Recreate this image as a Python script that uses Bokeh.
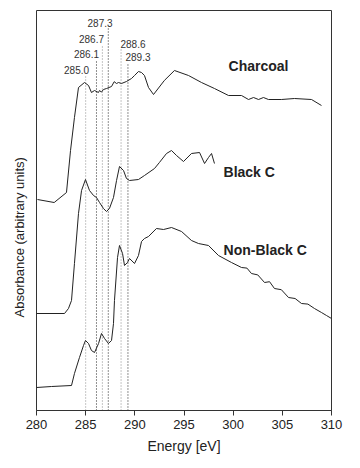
from bokeh.plotting import figure
from bokeh.models import Range1d, SingleIntervalTicker, Title, ColumnDataSource
from bokeh.core.properties import value
from bokeh.embed import file_html
from bokeh.resources import INLINE

# ---------------- data ----------------
charcoal_ev = [280.1, 281.8, 283.05, 283.46, 283.86, 284.27, 284.88, 285.29, 285.59, 285.9,
               286.3, 286.41, 286.6, 286.81, 287.12, 287.63, 287.9, 288.14, 288.34, 288.64, 289.15,
               289.66, 289.97, 290.37, 290.68, 290.98, 291.39, 291.9, 293.0, 294.03, 295.46,
               296.78, 298.1, 299.53, 300.85, 301.56, 302.07, 302.58, 303.08, 303.59, 304.9,
               306.24, 307.97, 308.98]
charcoal_abs = [52.75, 52.0, 54.5, 65.0, 73.25, 80.75, 82.0, 81.25, 79.5, 80.0,
                79.5, 80.0, 79.6, 80.25, 80.5, 81.0, 82.2, 81.75, 82.0, 81.75, 82.25,
                83.0, 83.75, 84.75, 84.5, 83.75, 80.75, 79.0, 82.5, 85.0, 83.75,
                82.0, 80.5, 78.75, 78.75, 77.75, 78.25, 77.75, 78.25, 77.75, 77.75,
                78.0, 77.75, 76.25]

blackc_ev = [280.0, 282.85, 283.25, 283.56, 283.86, 284.27, 284.58, 284.98, 285.39, 285.8,
             286.1, 286.41, 286.81, 287.12, 287.42, 287.83, 288.14, 288.44, 288.85, 289.15,
             289.46, 290.37, 290.98, 292.0, 292.5, 293.22, 293.73, 294.24, 294.95, 295.76,
             296.58, 297.09, 297.49, 297.8, 298.1]
blackc_abs = [24.25, 24.25, 25.5, 27.5, 36.75, 49.25, 55.0, 57.75, 55.0, 53.75,
              53.25, 52.0, 50.5, 49.75, 50.5, 53.25, 57.5, 61.0, 60.0, 58.0,
              57.5, 57.75, 58.75, 60.5, 62.0, 64.25, 65.0, 63.75, 62.25, 64.25,
              64.5, 61.75, 63.25, 64.25, 61.75]

nonblack_ev = [280.0, 281.53, 283.56, 283.86, 284.37, 284.78, 284.98, 285.29, 285.59, 285.9,
               286.31, 286.61, 286.92, 287.32, 287.63, 287.83, 287.93, 288.24, 288.44, 288.75,
               288.95, 289.25, 289.46, 289.97, 290.37, 290.68, 290.98, 291.39, 292.2, 292.92,
               293.73, 294.75, 295.76, 296.47, 297.49, 298.51, 299.83, 300.85, 301.4, 301.86,
               302.5, 303.19, 303.7, 304.2, 304.9, 305.63, 306.3, 306.95, 307.6, 308.27,
               308.98, 309.49, 310.0]
nonblack_abs = [5.75, 6.0, 6.25, 9.25, 13.25, 16.25, 17.5, 16.75, 15.0, 14.5,
                16.75, 19.25, 18.0, 16.75, 17.5, 21.75, 27.5, 38.25, 41.25, 39.25,
                36.25, 37.0, 38.0, 36.75, 38.75, 42.25, 43.0, 43.5, 45.5, 45.25,
                45.75, 44.75, 42.5, 41.75, 41.25, 38.75, 37.0, 35.75, 35.6, 34.25,
                33.9, 32.0, 32.2, 30.5, 30.2, 28.25, 28.0, 26.75, 26.6, 25.5,
                24.5, 23.75, 23.0]

peak_energies = [285.0, 286.1, 286.7, 287.3, 288.6, 289.3]
peak_labels = ["285.0", "286.1", "286.7", "287.3", "288.6", "289.3"]

series_names = ["Charcoal", "Black C", "Non-Black C"]

# ---------------- layout / style (not data) ----------------
peak_line_top = [83.5, 87.75, 91.5, 95.5, 90.25, 87.0]
peak_label_dx = [-0.93, -1.02, -1.11, -0.84, 1.21, 1.02]
peak_label_y = [85.25, 89.25, 93.0, 97.0, 91.75, 88.5]
peak_line_color = ["#8c8c8c", "#222222", "#8c8c8c", "#222222", "#8c8c8c", "#222222"]
name_x = [299.53, 299.02, 299.02]
name_y = [86.25, 59.75, 40.25]

FONT = "Liberation Sans"
INK = "#222222"

p = figure(output_backend="svg", toolbar_location=None,
           frame_width=295, frame_height=400,
           min_border_left=35, min_border_right=22, min_border_top=10, min_border_bottom=50,
           x_range=Range1d(280, 310), y_range=Range1d(0, 100))

p.background_fill_color = "white"
p.border_fill_color = "white"
p.outline_line_color = "#333333"
p.outline_line_width = 1
p.xgrid.visible = False
p.ygrid.visible = False
p.yaxis.visible = False

ax = p.xaxis[0]
ax.ticker = SingleIntervalTicker(interval=5)
ax.minor_tick_line_color = None
ax.major_tick_in = 0
ax.major_tick_out = 5
ax.axis_line_color = "#333333"
ax.major_tick_line_color = "#333333"
ax.major_label_text_font = FONT
ax.major_label_text_font_size = "13px"
ax.major_label_text_color = INK
ax.major_label_standoff = 4
ax.axis_label = "Energy [eV]"
ax.axis_label_text_font = FONT
ax.axis_label_text_font_size = "14px"
ax.axis_label_text_font_style = "normal"
ax.axis_label_text_color = INK
ax.axis_label_standoff = 6

# y-axis label as a left-side title, anchored near the lower part like the original
ytitle = Title(text="Absorbance (arbitrary units)", align="left", offset=93,
               text_font=FONT, text_font_size="13px", text_font_style="normal",
               text_color=INK, standoff=19)
p.add_layout(ytitle, "left")

# dotted reference lines
seg_src = ColumnDataSource(dict(x=peak_energies, top=peak_line_top, c=peak_line_color))
p.segment(x0="x", y0=0, x1="x", y1="top", source=seg_src, line_color="c",
          line_dash="1 2", line_width=1)

# curves
p.line(charcoal_ev, charcoal_abs, line_color=INK, line_width=1)
p.line(blackc_ev, blackc_abs, line_color=INK, line_width=1)
p.line(nonblack_ev, nonblack_abs, line_color=INK, line_width=1)

# peak labels
lab_x = [e + d for e, d in zip(peak_energies, peak_label_dx)]
p.text(x=lab_x, y=peak_label_y, text=peak_labels, text_font=value(FONT),
       text_font_size="10px", text_color="#333333", text_align="center",
       text_baseline="middle")

# series names
p.text(x=name_x, y=name_y, text=series_names, text_font=value(FONT),
       text_font_size="14px", text_font_style="bold", text_color=INK,
       text_align="left", text_baseline="middle")

open("out.html", "w").write(file_html(p, INLINE))
